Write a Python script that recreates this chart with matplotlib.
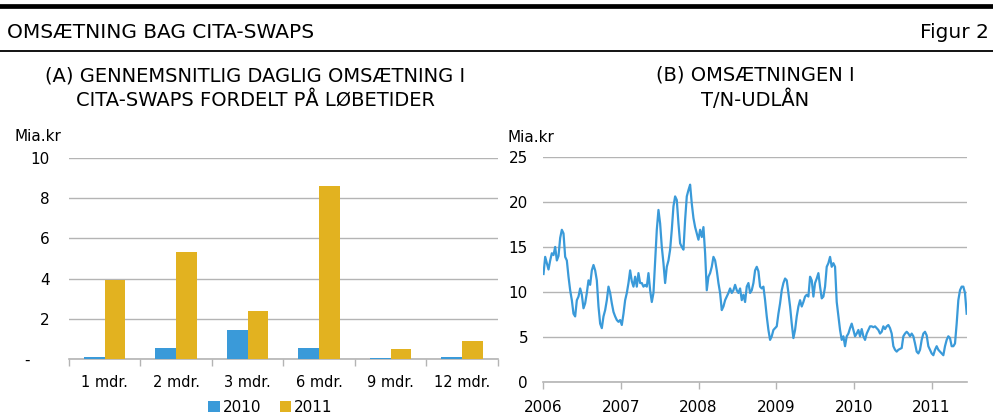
import numpy as np
import pandas as pd
import matplotlib
matplotlib.use("Agg")
import matplotlib.pyplot as plt
import matplotlib.dates as mdates
from matplotlib.lines import Line2D

plt.rcParams['font.family'] = ['DejaVu Sans']

BLUE = "#3a9ad9"
GOLD = "#e2b220"
GRID = "#b4b4b4"

# panel A data
maturities = ["1 mdr.", "2 mdr.", "3 mdr.", "6 mdr.", "9 mdr.", "12 mdr."]
turnover_2010 = [0.12, 0.56, 1.45, 0.56, 0.07, 0.12]
turnover_2011 = [3.95, 5.32, 2.40, 8.60, 0.51, 0.91]

# panel B data (roughly weekly)
tn_values = [
    12.0, 13.9, 13.2, 12.5, 13.5, 14.3, 14.1, 15.0, 13.5, 14.0, 16.0, 16.9, 16.5,
    13.9, 13.5, 11.7, 10.2, 9.1, 7.6, 7.3, 9.1, 9.5, 10.4, 9.7, 8.2, 8.75, 9.9,
    11.3, 10.8, 12.4, 13.0, 12.4, 11.3, 8.4, 6.5, 6.0, 7.3, 8.0, 9.1, 10.6, 9.9,
    8.75, 7.8, 7.3, 6.9, 6.7, 6.9, 6.35, 7.6, 9.1, 9.9, 11.0, 12.4, 11.2, 10.6,
    11.7, 10.6, 12.1, 11.0, 11.0, 10.6, 10.8, 10.6, 12.1, 10.2, 8.9, 9.9, 13.5,
    16.9, 19.1, 17.6, 15.0, 13.2, 11.0, 12.8, 13.5, 14.7, 16.9, 19.5, 20.6, 20.2,
    17.6, 15.4, 15.0, 14.7, 18.0, 20.6, 21.3, 21.9, 19.8, 18.2, 17.2, 16.5, 15.8,
    16.9, 16.1, 17.2, 14.3, 10.2, 11.7, 12.1, 12.8, 13.9, 13.5, 12.4, 11.0, 9.9,
    8.0, 8.4, 9.1, 9.5, 9.9, 10.4, 9.9, 10.2, 10.8, 10.2, 9.9, 10.4, 9.1, 9.7,
    8.9, 10.6, 11.0, 9.9, 10.2, 11.0, 12.4, 12.8, 12.3, 10.6, 10.4, 10.6, 9.1,
    7.3, 5.8, 4.7, 5.1, 5.8, 6.0, 6.2, 7.6, 8.75, 10.2, 11.0, 11.5, 11.3, 9.9,
    8.4, 6.5, 4.9, 5.8, 7.3, 8.4, 9.1, 8.4, 8.9, 9.5, 9.7, 9.5, 11.7, 11.3, 9.5,
    11.0, 11.5, 12.1, 10.6, 9.3, 9.5, 10.6, 12.8, 13.2, 13.9, 12.8, 13.2, 12.8,
    8.9, 7.3, 5.8, 4.7, 5.1, 4.0, 5.1, 5.4, 6.0, 6.5, 5.8, 5.1, 5.4, 5.8, 5.1,
    5.9, 5.1, 4.7, 5.4, 5.8, 6.2, 6.2, 6.1, 6.2, 6.0, 5.8, 5.4, 5.6, 6.2, 5.9,
    6.2, 6.35, 6.0, 5.4, 4.0, 3.6, 3.4, 3.6, 3.7, 3.8, 5.1, 5.4, 5.6, 5.4, 5.1,
    5.4, 5.1, 4.3, 3.4, 3.2, 3.6, 4.7, 5.4, 5.6, 5.2, 4.0, 3.6, 3.2, 3.0, 3.6,
    4.0, 3.6, 3.4, 3.2, 3.0, 4.0, 4.7, 5.1, 4.9, 4.0, 4.0, 4.3, 6.5, 9.1, 10.2,
    10.6, 10.6, 9.9, 7.6,
]
tn_dates = pd.date_range("2006-01-02", "2011-06-15", periods=len(tn_values))
years = [2006, 2007, 2008, 2009, 2010, 2011]

W, H = 993, 419
fig = plt.figure(figsize=(W / 100, H / 100), dpi=100)


def px_axes(x0, y0, x1, y1):
    return fig.add_axes([x0 / W, 1 - y1 / H, (x1 - x0) / W, (y1 - y0) / H])


# header
fig.add_artist(Line2D([0, 1], [1 - 6.5 / H] * 2, color="black", lw=3.4))
fig.add_artist(Line2D([0, 1], [1 - 51.5 / H] * 2, color="black", lw=1.3))
fig.text(7 / W, 1 - 33 / H, "OMSÆTNING BAG CITA-SWAPS", fontsize=14.5, va="center", ha="left")
fig.text(989 / W, 1 - 33 / H, "Figur 2", fontsize=14.5, va="center", ha="right")

fig.text(255 / W, 1 - 88 / H, "(A) GENNEMSNITLIG DAGLIG OMSÆTNING I\nCITA-SWAPS FORDELT PÅ LØBETIDER",
         fontsize=14, ha="center", va="center", linespacing=1.3)
fig.text(755 / W, 1 - 88 / H, "(B) OMSÆTNINGEN I\nT/N-UDLÅN",
         fontsize=14, ha="center", va="center", linespacing=1.3)

# panel A
axA = px_axes(69, 157.7, 497.7, 359.3)
x = np.arange(len(maturities))
bw = 0.29
axA.bar(x - bw / 2, turnover_2010, bw, color=BLUE, label="2010", zorder=3)
axA.bar(x + bw / 2, turnover_2011, bw, color=GOLD, label="2011", zorder=3)
axA.set_xlim(-0.5, len(maturities) - 0.5)
axA.set_ylim(0, 10)
axA.set_yticks([0, 2, 4, 6, 8, 10])
axA.set_yticklabels(["-    ", "2", "4", "6", "8", "10"])
axA.yaxis.grid(True, color=GRID, lw=1)
axA.set_axisbelow(True)
axA.set_xticks(x)
axA.set_xticklabels(maturities)
axA.set_xticks(np.arange(-0.5, len(maturities)), minor=True)
axA.tick_params(axis="x", which="major", length=0, pad=11, labelsize=10.5)
axA.tick_params(axis="x", which="minor", length=5, color=GRID, width=1, direction="out")
axA.tick_params(axis="y", length=0, pad=14, labelsize=11)
for s in ["top", "right", "left"]:
    axA.spines[s].set_visible(False)
axA.spines["bottom"].set_color(GRID)
axA.spines["bottom"].set_linewidth(1.2)
axA.text(-0.127, 1.07, "Mia.kr", transform=axA.transAxes, fontsize=11, ha="left", va="bottom")
axA.legend(loc="center", bbox_to_anchor=(0.47, -0.24), ncol=2, frameon=False,
           fontsize=11, handlelength=0.75, handleheight=0.75, handletextpad=0.2,
           columnspacing=1.2, borderaxespad=0, borderpad=0)

# panel B
axB = px_axes(543.3, 156.7, 967.3, 382.3)
axB.plot(tn_dates, tn_values, color=BLUE, lw=1.6)
axB.set_xlim(pd.Timestamp("2006-01-01"), pd.Timestamp("2011-06-18"))
axB.set_ylim(0, 25)
axB.set_yticks([0, 5, 10, 15, 20, 25])
axB.yaxis.grid(True, color=GRID, lw=1)
axB.set_xticks([pd.Timestamp(f"{y}-01-01") for y in years])
axB.xaxis.set_major_formatter(mdates.DateFormatter("%Y"))
axB.tick_params(axis="x", length=5, color=GRID, width=1, pad=8, labelsize=11)
axB.tick_params(axis="y", length=0, pad=11, labelsize=11)
for s in ["top", "right", "left"]:
    axB.spines[s].set_visible(False)
axB.spines["bottom"].set_color(GRID)
axB.spines["bottom"].set_linewidth(1.2)
axB.text(-0.085, 1.05, "Mia.kr", transform=axB.transAxes, fontsize=11, ha="left", va="bottom")

fig.savefig("out.png", dpi=100)
